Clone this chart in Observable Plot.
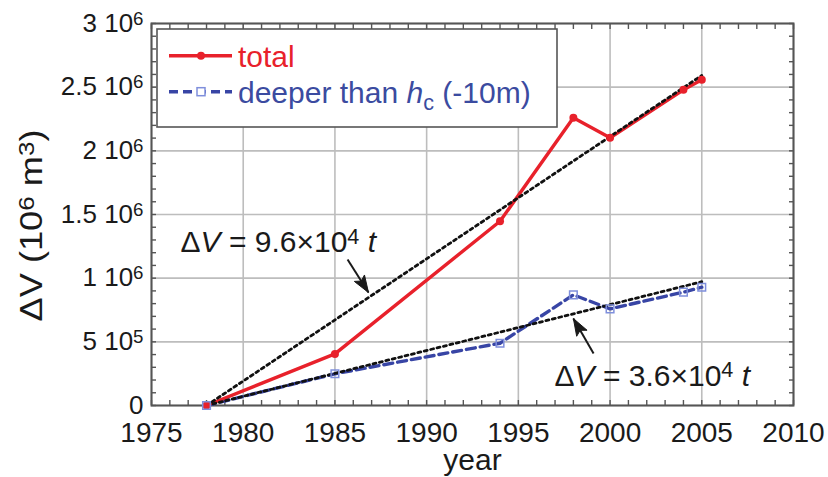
<!DOCTYPE html>
<html>
<head>
<meta charset="utf-8">
<script src="https://cdn.jsdelivr.net/npm/d3@7"></script>
<script src="https://cdn.jsdelivr.net/npm/@observablehq/plot@0.6"></script>
<style>
  html, body { margin: 0; padding: 0; background: #fff; }
</style>
</head>
<body>
<div id="chart"></div>
<script>
// ---------- data ----------
const years  = [1978, 1985, 1994, 1998, 2000, 2004, 2005];
const total  = [0, 405000, 1447000, 2259000, 2102000, 2479000, 2558000];
const deeper = [0, 249000, 489000, 869000, 759000, 890000, 929000];

const fitYears  = [1978, 2005];
const fitTotal  = [0, 2592000];   // ΔV = 9.6×10⁴ t
const fitDeeper = [0, 972000];    // ΔV = 3.6×10⁴ t

const xTicks = [1975, 1980, 1985, 1990, 1995, 2000, 2005, 2010];
const yTicks = [0, 500000, 1000000, 1500000, 2000000, 2500000, 3000000];
const xMinor = d3.range(1975, 2011, 1);
const yMinor = d3.range(0, 3000001, 100000);

const annotations = [
  {label: "Δ~{V} = 9.6×10^{4} ~{t}", x: 1976.58, y: 1280000},
  {label: "Δ~{V} = 3.6×10^{4} ~{t}", x: 1996.97, y: 232000}
];
const arrows = [
  {x1: 1985.69, y1: 1146600, x2: 1986.83, y2: 887000},
  {x1: 1999.10, y1: 408000,  x2: 1998.00, y2: 683000}
];

// ---------- layout ----------
const W = 828, H = 477;
const M = {top: 23, right: 35, bottom: 72, left: 151};
const xDomain = [1975, 2010], yDomain = [0, 3000000];
const RED = "#e8212b", BLUE = "#3845a5", BLUE_TXT = "#3b4ba0", SQ = "#7f8fdc";
const INK = "#1a1a1a", FRAME = "#555";
const FONT = "'Liberation Sans', Arial, Helvetica, sans-serif";

const rowsT = years.map((y, i) => ({year: y, v: total[i]}));
const rowsD = years.map((y, i) => ({year: y, v: deeper[i]}));
const fitT = fitYears.map((y, i) => ({year: y, v: fitTotal[i]}));
const fitD = fitYears.map((y, i) => ({year: y, v: fitDeeper[i]}));

// pixel mapping only used to orient the arrow heads
const px = d3.scaleLinear(xDomain, [M.left, W - M.right]);
const py = d3.scaleLinear(yDomain, [H - M.bottom, M.top]);
function headSymbol(a) {
  const dx = px(a.x2) - px(a.x1), dy = py(a.y2) - py(a.y1);
  const len = Math.hypot(dx, dy);
  const ux = dx / len, uy = dy / len;
  const nx = -uy, ny = ux;
  const L = 17, Wd = 12;
  return {
    draw(ctx) {
      ctx.moveTo(0, 0);
      ctx.lineTo(-ux * L + nx * Wd / 2, -uy * L + ny * Wd / 2);
      ctx.lineTo(-ux * L * 0.8, -uy * L * 0.8);
      ctx.lineTo(-ux * L - nx * Wd / 2, -uy * L - ny * Wd / 2);
      ctx.closePath();
    }
  };
}

const yFmt = d => d === 0 ? "0" : d < 1e6 ? `${d / 1e5} 10^{5}` : `${d / 1e6} 10^{6}`;

const plot = Plot.plot({
  width: W, height: H,
  marginTop: M.top, marginRight: M.right, marginBottom: M.bottom, marginLeft: M.left,
  style: {fontFamily: FONT, background: "#fff", color: INK},
  x: {domain: xDomain, label: null},
  y: {domain: yDomain, label: null},
  marks: [
    Plot.gridX(xTicks, {stroke: "#bdbdbd", strokeOpacity: 1, strokeWidth: 1.6}),
    Plot.gridY(yTicks, {stroke: "#bdbdbd", strokeOpacity: 1, strokeWidth: 1.6}),
    // inward minor ticks on all four sides
    Plot.axisX(xMinor, {anchor: "bottom", tickSize: -5, tickFormat: () => "", stroke: FRAME, strokeWidth: 1.4, label: null}),
    Plot.axisX(xMinor, {anchor: "top", tickSize: -5, tickFormat: () => "", stroke: FRAME, strokeWidth: 1.4, label: null}),
    Plot.axisY(yMinor, {anchor: "left", tickSize: -5, tickFormat: () => "", stroke: FRAME, strokeWidth: 1.4, label: null}),
    Plot.axisY(yMinor, {anchor: "right", tickSize: -5, tickFormat: () => "", stroke: FRAME, strokeWidth: 1.4, label: null}),
    // labelled axes
    Plot.axisX(xTicks, {anchor: "bottom", tickSize: 0, tickPadding: 17, fontSize: 28, fill: INK, label: null, tickFormat: d => String(d)}),
    Plot.axisY(yTicks, {anchor: "left", tickSize: 0, tickPadding: 8, fontSize: 26, fill: INK, label: null, tickFormat: yFmt}),
    Plot.frame({stroke: FRAME, strokeWidth: 2}),
    // data lines
    Plot.line(rowsD, {x: "year", y: "v", stroke: BLUE, strokeWidth: 3.4, strokeDasharray: "9,5"}),
    Plot.line(rowsT, {x: "year", y: "v", stroke: RED, strokeWidth: 3.4}),
    // fit lines (dotted)
    Plot.line(fitT, {x: "year", y: "v", stroke: "#111", strokeWidth: 2.8, strokeDasharray: "3,3.6"}),
    Plot.line(fitD, {x: "year", y: "v", stroke: "#111", strokeWidth: 2.8, strokeDasharray: "3,3.6"}),
    // markers
    Plot.dot(rowsT, {x: "year", y: "v", r: 4, fill: RED}),
    Plot.dot(rowsD, {x: "year", y: "v", r: 4.3, symbol: "square", stroke: SQ, strokeWidth: 1.5, fill: "none"}),
    // annotations
    Plot.text(annotations, {x: "x", y: "y", text: "label", textAnchor: "start", lineAnchor: "middle", fontSize: 30, fill: INK}),
    Plot.link(arrows, {x1: "x1", y1: "y1", x2: "x2", y2: "y2", stroke: INK, strokeWidth: 2}),
    ...arrows.map(a => Plot.dot([a], {x: "x2", y: "y2", r: 5, symbol: headSymbol(a), fill: INK, stroke: INK, strokeWidth: 1})),
    // axis titles
    Plot.text(["year"], {frameAnchor: "bottom", textAnchor: "middle", dy: 55, fontSize: 30, fill: INK, lineAnchor: "middle"}),
    Plot.text(["ΔV (10^{6} m^{3})"], {frameAnchor: "left", textAnchor: "middle", rotate: -90, dx: -119, dy: 11, fontSize: 31, fill: INK, lineAnchor: "middle"})
  ]
});

document.getElementById("chart").appendChild(plot);

// ---------- legend ----------
const svg = d3.select(plot);
const lg = svg.append("g").attr("font-family", FONT).attr("text-anchor", "start");
lg.append("rect").attr("x", 157).attr("y", 29).attr("width", 400).attr("height", 98)
  .attr("fill", "#fff").attr("stroke", FRAME).attr("stroke-width", 1.6);
lg.append("line").attr("x1", 169).attr("x2", 232).attr("y1", 55.7).attr("y2", 55.7)
  .attr("stroke", RED).attr("stroke-width", 3.4);
lg.append("circle").attr("cx", 201).attr("cy", 55.7).attr("r", 4).attr("fill", RED);
lg.append("text").attr("x", 238).attr("y", 67).attr("font-size", 30).attr("fill", RED).text("total");
lg.append("line").attr("x1", 169).attr("x2", 232).attr("y1", 91.7).attr("y2", 91.7)
  .attr("stroke", BLUE).attr("stroke-width", 3.4).attr("stroke-dasharray", "9,5");
lg.append("rect").attr("x", 197).attr("y", 87.7).attr("width", 8).attr("height", 8)
  .attr("fill", "#fff").attr("stroke", SQ).attr("stroke-width", 1.5);
lg.append("text").attr("class", "legend-deeper").attr("x", 238).attr("y", 103).attr("font-size", 30).attr("fill", BLUE_TXT)
  .text("deeper than ~{h}_{c} (-10m)");

// ---------- rich text (superscripts, subscripts, italics) ----------
function richify(el) {
  const s = el.textContent;
  if (!/[\^_~]\{/.test(s)) return false;
  const F = parseFloat(getComputedStyle(el).fontSize) || 16;
  while (el.firstChild) el.removeChild(el.firstChild);
  const re = /([\^_~])\{([^}]*)\}/g;
  let last = 0, m, offset = 0;
  const add = (txt, kind) => {
    if (!txt) return;
    const t = document.createElementNS("http://www.w3.org/2000/svg", "tspan");
    let target = 0;
    if (kind === "^") { t.setAttribute("font-size", (0.72 * F).toFixed(1)); target = -0.28 * F; }
    else if (kind === "_") { t.setAttribute("font-size", (0.72 * F).toFixed(1)); target = 0.22 * F; }
    else if (kind === "~") { t.setAttribute("font-style", "italic"); }
    if (target !== offset) { t.setAttribute("dy", (target - offset).toFixed(2)); offset = target; }
    t.textContent = txt;
    el.appendChild(t);
  };
  while ((m = re.exec(s))) {
    add(s.slice(last, m.index), "");
    add(m[2], m[1]);
    last = re.lastIndex;
  }
  add(s.slice(last), "");
  return true;
}
plot.querySelectorAll("text").forEach(el => {
  const isYLabel = el.textContent.startsWith("ΔV (");
  richify(el);
  if (isYLabel) {
    // the reference's axis title is set slightly wider than Liberation Sans
    el.setAttribute("textLength", 192);
    el.setAttribute("lengthAdjust", "spacingAndGlyphs");
  }
});
</script>
</body>
</html>
